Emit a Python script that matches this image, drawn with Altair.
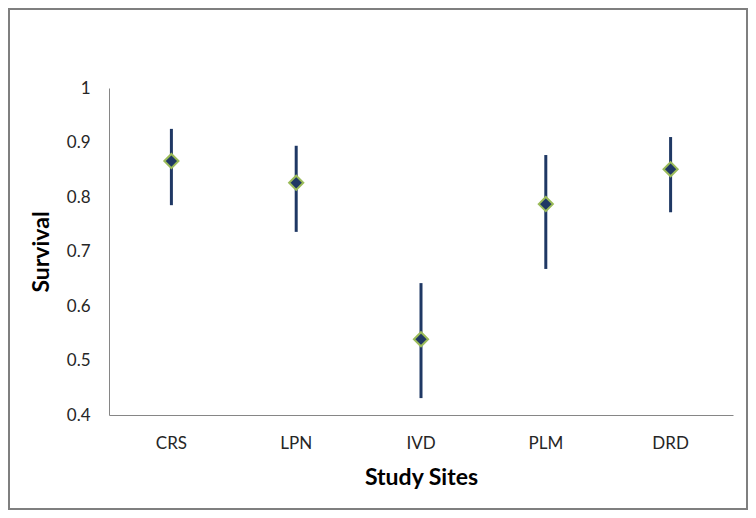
import altair as alt
import pandas as pd

sites = ["CRS", "LPN", "IVD", "PLM", "DRD"]
survival = [0.866, 0.826, 0.539, 0.787, 0.851]
lower = [0.785, 0.736, 0.431, 0.668, 0.772]
upper = [0.925, 0.894, 0.642, 0.877, 0.910]

df = pd.DataFrame({"site": sites, "survival": survival, "lower": lower, "upper": upper})

FONT = "Lato"

x = alt.X("site:N", sort=sites, title="Study Sites",
          scale=alt.Scale(paddingInner=0, paddingOuter=0),
          axis=alt.Axis(labelAngle=0, ticks=False, domainColor="#868686",
                        labelFont=FONT, labelFontSize=17, labelColor="#262626",
                        labelPadding=20, titleFont=FONT, titleFontSize=23,
                        titleFontWeight="bold", titleColor="#000000", titlePadding=15))

y_scale = alt.Scale(domain=[0.4, 1.0], nice=False, zero=False)

bars = alt.Chart(df).mark_rule(color="#1F3864", strokeWidth=3).encode(
    x=x,
    y=alt.Y("lower:Q", scale=y_scale, title="Survival",
            axis=alt.Axis(values=[0.4, 0.5, 0.6, 0.7, 0.8, 0.9, 1.0], format="~g",
                          ticks=False, grid=False, domainColor="#868686",
                          labelFont=FONT, labelFontSize=17, labelColor="#262626",
                          labelPadding=19, titleFont=FONT, titleFontSize=23,
                          titleFontWeight="bold", titleColor="#000000", titlePadding=13)),
    y2="upper:Q",
)

points = alt.Chart(df).mark_point(shape="diamond", filled=True, size=200,
                                  fill="#1F3864", stroke="#9BBB59", strokeWidth=2,
                                  opacity=1).encode(
    x=alt.X("site:N", sort=sites),
    y=alt.Y("survival:Q", scale=y_scale),
)

frame = alt.Chart(alt.Data(values=[{}])).mark_rect(
    fill=None, stroke="#7f7f7f", strokeWidth=2, clip=False
).encode(
    x=alt.value(-100), x2=alt.value(638), y=alt.value(-79), y2=alt.value(421)
)

chart = alt.layer(frame, bars, points).properties(
    width=624, height=327,
    autosize=alt.AutoSizeParams(type="none"),
    padding={"left": 101, "top": 80, "right": 15, "bottom": 95},
).configure_view(stroke=None).configure_axis(grid=False)

chart.save("out.html", embed_options={"renderer": "svg", "actions": False})
